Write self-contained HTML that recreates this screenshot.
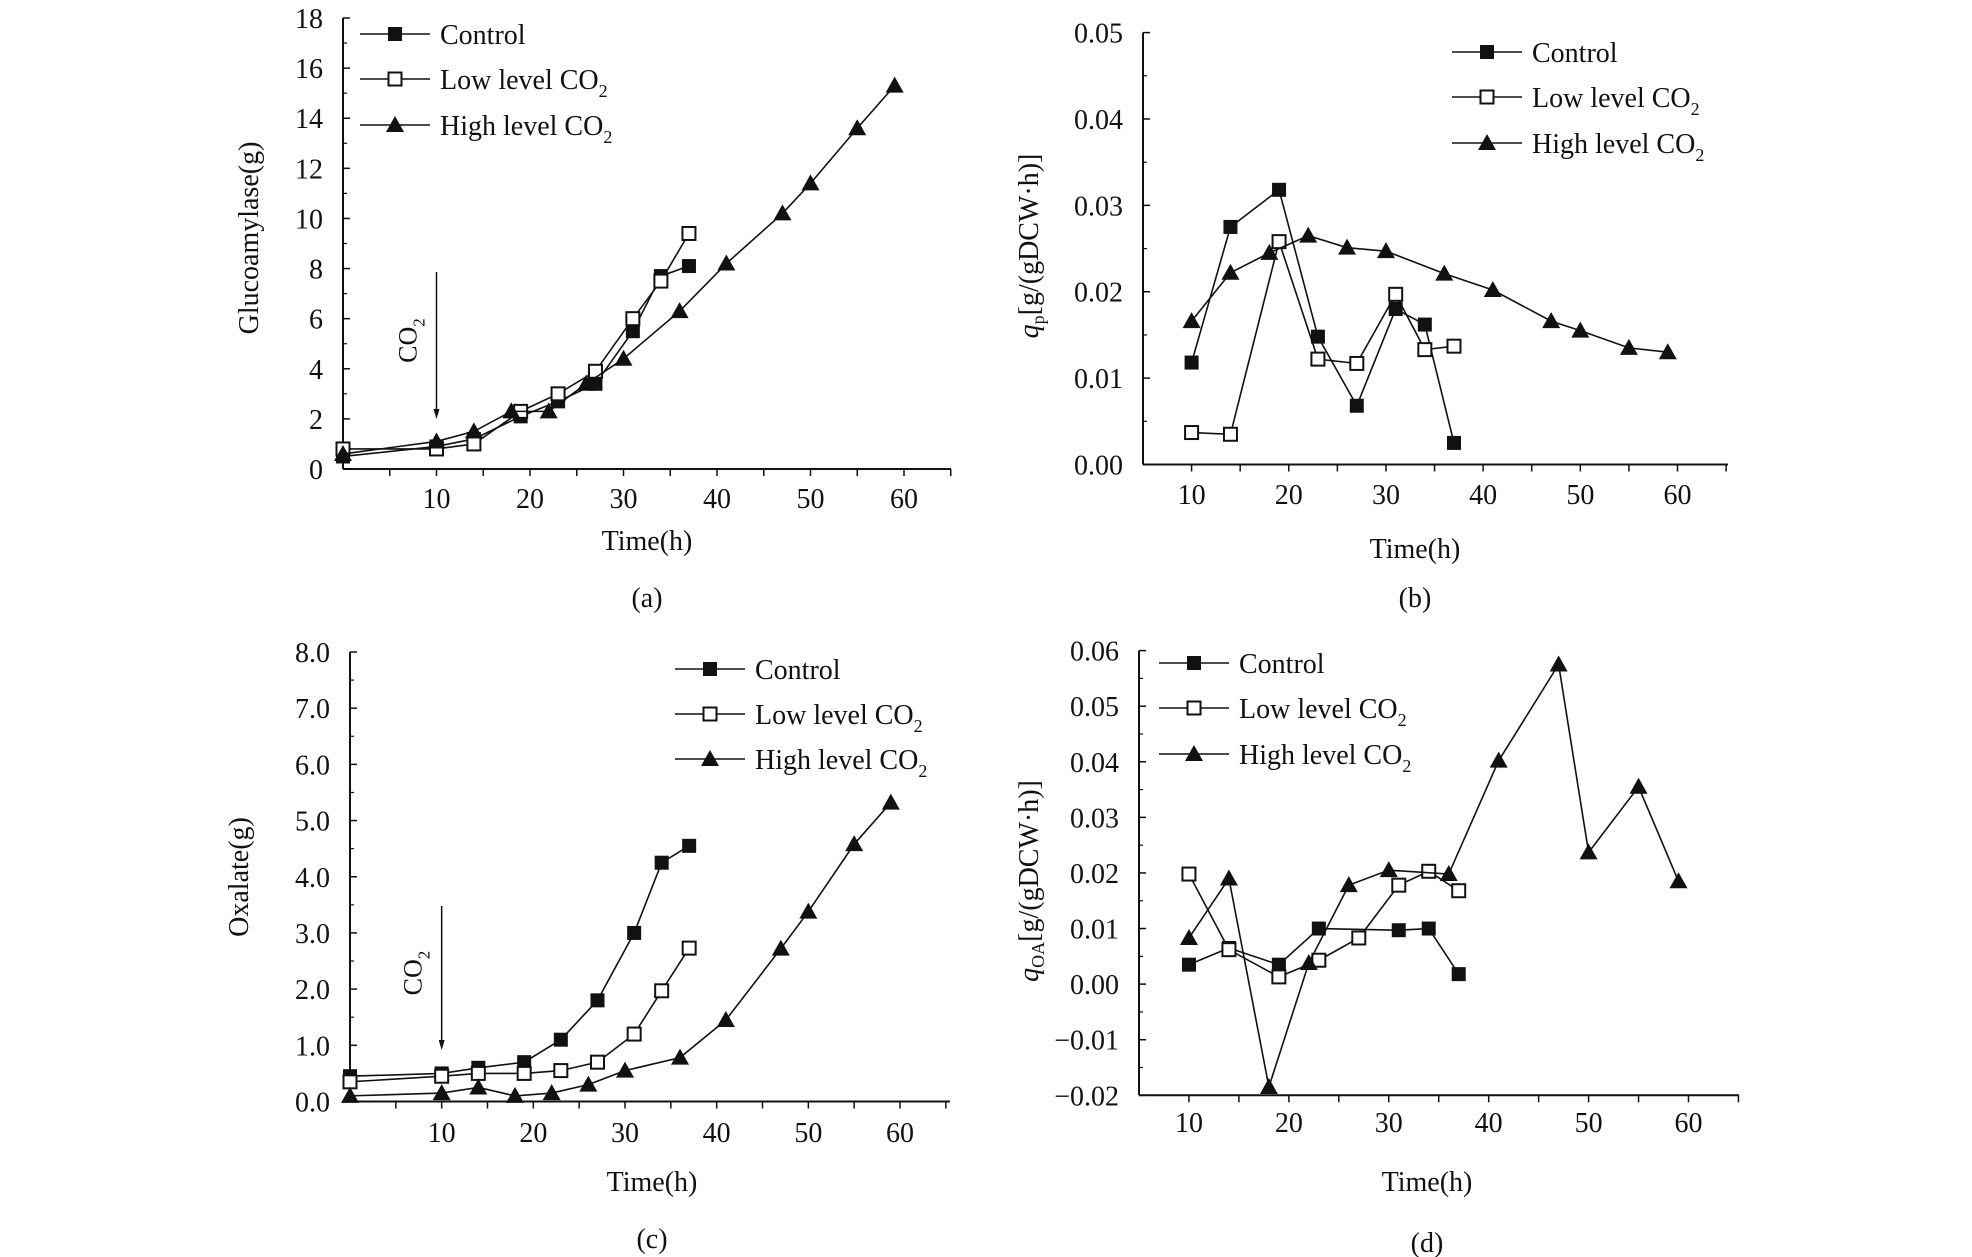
<!DOCTYPE html>
<html><head><meta charset="utf-8"><style>
body{margin:0;background:#fff}
svg{display:block}
text{font-family:"Liberation Serif",serif;fill:#111}
</style></head><body>
<svg id="fig" width="1972" height="1257" viewBox="0 0 1972 1257"></svg>
<script>
// Panel (a) glucoamylase
const aCtrlT=[0,10,14,19,23,27,31,34,37];
const aCtrlV=[0.5,0.9,1.2,2.1,2.7,3.4,5.5,7.7,8.1];
const aLowT=[0,10,14,19,23,27,31,34,37];
const aLowV=[0.8,0.8,1.0,2.3,3.0,3.9,6.0,7.5,9.4];
const aHighT=[0,10,14,18,22,26,30,36,41,47,50,55,59];
const aHighV=[0.6,1.1,1.5,2.3,2.3,3.4,4.4,6.3,8.2,10.2,11.4,13.6,15.3];
const aYTicks=["0","2","4","6","8","10","12","14","16","18"];
// Panel (b) qp
const bCtrlT=[10,14,19,23,27,31,34,37];
const bCtrlV=[0.0118,0.0275,0.0318,0.0148,0.0068,0.018,0.0162,0.0025];
const bLowT=[10,14,19,23,27,31,34,37];
const bLowV=[0.0037,0.0035,0.0258,0.0122,0.0117,0.0197,0.0133,0.0137];
const bHighT=[10,14,18,22,26,30,36,41,47,50,55,59];
const bHighV=[0.0166,0.0222,0.0245,0.0265,0.0251,0.0247,0.0221,0.0202,0.0166,0.0155,0.0135,0.013];
const bYTicks=["0.00","0.01","0.02","0.03","0.04","0.05"];
// Panel (c) oxalate
const cCtrlT=[0,10,14,19,23,27,31,34,37];
const cCtrlV=[0.45,0.5,0.6,0.7,1.1,1.8,3.0,4.25,4.55];
const cLowT=[0,10,14,19,23,27,31,34,37];
const cLowV=[0.35,0.45,0.5,0.5,0.55,0.7,1.2,1.97,2.73];
const cHighT=[0,10,14,18,22,26,30,36,41,47,50,55,59];
const cHighV=[0.1,0.15,0.25,0.1,0.15,0.3,0.55,0.78,1.45,2.72,3.38,4.58,5.32];
const cYTicks=["0.0","1.0","2.0","3.0","4.0","5.0","6.0","7.0","8.0"];
// Panel (d) qOA
const dCtrlT=[10,14,19,23,31,34,37];
const dCtrlV=[0.0035,0.0065,0.0035,0.01,0.0097,0.01,0.0018];
const dLowT=[10,14,19,23,27,31,34,37];
const dLowV=[0.0198,0.0062,0.0013,0.0043,0.0083,0.0178,0.0203,0.0168];
const dHighT=[10,14,18,22,26,30,36,41,47,50,55,59];
const dHighV=[0.0083,0.019,-0.0185,0.0038,0.0178,0.0205,0.0198,0.0402,0.0575,0.0237,0.0355,0.0185];
const dYTicks=["\u22120.02","\u22120.01","0.00","0.01","0.02","0.03","0.04","0.05","0.06"];
const xTicks=["10","20","30","40","50","60"];

const NS="http://www.w3.org/2000/svg";
const svg=document.getElementById('fig');
function mk(tag,attrs,parent,text){const e=document.createElementNS(NS,tag);for(const k in attrs)e.setAttribute(k,attrs[k]);if(text!==undefined)e.textContent=text;(parent||svg).appendChild(e);return e;}

function marker(g,type,x,y){
  let e;
  if(type==='ctrl'){e=mk('rect',{x:x-7,y:y-7,width:14,height:14,fill:'#111'},g);}
  else if(type==='low'){e=mk('rect',{x:x-6.5,y:y-6.5,width:13,height:13,fill:'#fff',stroke:'#111','stroke-width':2},g);}
  else{e=mk('polygon',{points:`${x},${y-9} ${x+9},${y+7} ${x-9},${y+7}`,fill:'#111'},g);}
  return e;
}

function panel(p){
  const g=mk('g',{});
  
  
  const X=t=>p.ax+(t-p.x0)*(p.xr-p.ax)/(p.x1-p.x0);
  const Y=v=>p.y0px+(v-p.ymin)*(p.y1px-p.y0px)/(p.ymax-p.ymin);
  const ya=mk('line',{x1:p.ax,y1:p.y1px,x2:p.ax,y2:p.y0px,stroke:'#111','stroke-width':2},g);
  
  const xa=mk('line',{x1:p.ax,y1:p.y0px,x2:p.axEnd,y2:p.y0px,stroke:'#111','stroke-width':2},g);
  
  for(let t=p.x0;t<=p.xmaxTick;t+=5){const xx=X(t);if(xx<p.ax+1)continue;mk('line',{x1:xx,y1:p.y0px,x2:xx,y2:p.y0px+7,stroke:'#111','stroke-width':1.5},g);}
  xTicks.forEach(s=>{const t=+s;const tl=mk('text',{x:X(t),y:p.xlabY,'font-size':28,'text-anchor':'middle'},g,s);
    });
  const n=p.yt.length;
  for(let i=0;i<n;i++){const v=p.ymin+i*(p.ymax-p.ymin)/(n-1);const yy=Y(v);
    mk('line',{x1:p.ax,y1:yy,x2:p.ax+7,y2:yy,stroke:'#111','stroke-width':1.5},g);
    if(i<n-1){const ym=Y(v+(p.ymax-p.ymin)/(n-1)/2);mk('line',{x1:p.ax,y1:ym,x2:p.ax+4,y2:ym,stroke:'#111','stroke-width':1.2},g);}
    const tl=mk('text',{x:p.ax-20,y:yy+10,'font-size':28,'text-anchor':'end'},g,p.yt[i]);
    }
  p.series.forEach(s=>{
    const sg=mk('g',{},g);
    
    const pts=s.t.map((t,i)=>X(t)+','+Y(s.v[i])).join(' ');
    mk('polyline',{points:pts,fill:'none',stroke:'#111','stroke-width':1.6},sg);
    s.t.forEach((t,i)=>{const m=marker(sg,s.type,X(t),Y(s.v[i]));
      });
  });
  const labels=['Control','Low level CO','High level CO'];
  ['ctrl','low','high'].forEach((tp,i)=>{
    const lg=mk('g',{},g);
    
    const ly=p.legY[i];
    mk('line',{x1:p.legX,y1:ly,x2:p.legX+70,y2:ly,stroke:'#111','stroke-width':1.6},lg);
    marker(lg,tp,p.legX+35,ly);
    const tx=mk('text',{x:p.legX+80,y:ly+10,'font-size':28},lg,labels[i]);
    if(i>0){mk('tspan',{'font-size':18,dy:8},tx,'2');}
  });
  const xt=mk('text',{x:p.xtX,y:p.xtY,'font-size':28,'text-anchor':'middle'},g,'Time(h)');
  
  const cap=mk('text',{x:p.xtX,y:p.capY,'font-size':28,'text-anchor':'middle'},g,p.cap);
  
  const yt=mk('text',{x:0,y:0,'font-size':28,'text-anchor':'middle',transform:`translate(${p.ytX},${p.ytY}) rotate(-90)`},g);
  
  if(p.ytitle.sub){
    mk('tspan',{'font-style':'italic'},yt,'q');
    mk('tspan',{'font-size':18,dy:6},yt,p.ytitle.sub);
    mk('tspan',{dy:-6},yt,'[g/(gDCW\u00b7h)]');
  } else yt.textContent=p.ytitle.text;
  if(p.arrow){
    const ag=mk('g',{},g);
    
    const ax=X(10);
    mk('line',{x1:ax,y1:p.arrow[0],x2:ax,y2:p.arrow[1]-8,stroke:'#111','stroke-width':1.5},ag);
    mk('polygon',{points:`${ax-3},${p.arrow[1]-10} ${ax+3},${p.arrow[1]-10} ${ax},${p.arrow[1]}`,fill:'#111'},ag);
    const ct=mk('text',{x:0,y:0,'font-size':26,'text-anchor':'middle',transform:`translate(${ax-20},${(p.arrow[0]+p.arrow[1])/2-5}) rotate(-90)`},ag,'CO');
    mk('tspan',{'font-size':17,dy:8},ct,'2');
  }
}

panel({name:'panel-a-glucoamylase',ax:343,x0:0,x1:60,xr:904,axEnd:951,xmaxTick:65,y0px:469,y1px:18,ymin:0,ymax:18,xlabY:508,yt:aYTicks,
  series:[{type:'ctrl',t:aCtrlT,v:aCtrlV},{type:'low',t:aLowT,v:aLowV},{type:'high',t:aHighT,v:aHighV}],
  legX:360,legY:[34,79,125],xtX:647,xtY:550,capY:607,cap:'(a)',ytX:258,ytY:238,ytitle:{text:'Glucoamylase(g)'},arrow:[272,419]});
panel({name:'panel-b-qp',ax:1143,x0:5,x1:60,xr:1677.5,axEnd:1728,xmaxTick:65,y0px:464.5,y1px:32.6,ymin:0,ymax:0.05,xlabY:504,yt:bYTicks,
  series:[{type:'ctrl',t:bCtrlT,v:bCtrlV},{type:'low',t:bLowT,v:bLowV},{type:'high',t:bHighT,v:bHighV}],
  legX:1452,legY:[52,97,143],xtX:1415,xtY:558,capY:607,cap:'(b)',ytX:1038,ytY:246,ytitle:{sub:'p'}});
panel({name:'panel-c-oxalate',ax:350,x0:0,x1:60,xr:900,axEnd:950,xmaxTick:65,y0px:1101.5,y1px:652,ymin:0,ymax:8,xlabY:1142,yt:cYTicks,
  series:[{type:'ctrl',t:cCtrlT,v:cCtrlV},{type:'low',t:cLowT,v:cLowV},{type:'high',t:cHighT,v:cHighV}],
  legX:675,legY:[669,714,759],xtX:652,xtY:1191,capY:1248,cap:'(c)',ytX:248,ytY:877,ytitle:{text:'Oxalate(g)'},arrow:[906,1050]});
panel({name:'panel-d-qoa',ax:1139,x0:5,x1:60,xr:1688.5,axEnd:1739,xmaxTick:65,y0px:1095.3,y1px:650.6,ymin:-0.02,ymax:0.06,xlabY:1132,yt:dYTicks,
  series:[{type:'ctrl',t:dCtrlT,v:dCtrlV},{type:'low',t:dLowT,v:dLowV},{type:'high',t:dHighT,v:dHighV}],
  legX:1159,legY:[663,708,754],xtX:1427,xtY:1191,capY:1252,cap:'(d)',ytX:1038,ytY:881,ytitle:{sub:'OA'}});
</script>
</body></html>
